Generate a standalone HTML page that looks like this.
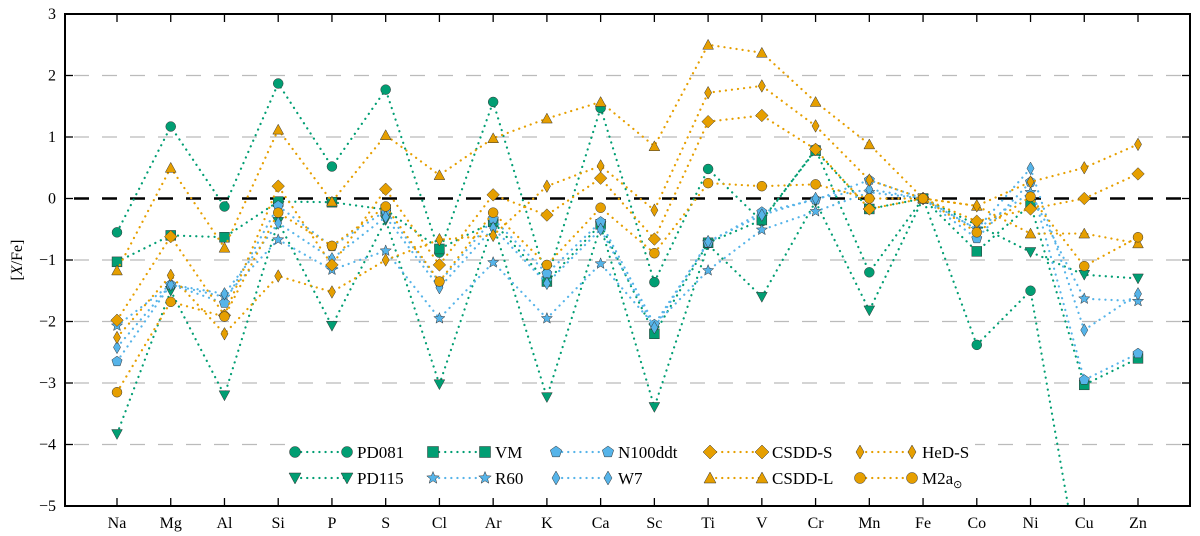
<!DOCTYPE html>
<html><head><meta charset="utf-8"><style>
html,body{margin:0;padding:0;background:#fff;width:1200px;height:536px;overflow:hidden}
svg{display:block}
svg text{font-family:"Liberation Serif",serif;}
</style></head><body>
<svg id="chart" width="1200" height="536" xmlns="http://www.w3.org/2000/svg"></svg>
<script>
const categories=["Na","Mg","Al","Si","P","S","Cl","Ar","K","Ca","Sc","Ti","V","Cr","Mn","Fe","Co","Ni","Cu","Zn"];
const yTicks=[3,2,1,0,-1,-2,-3,-4,-5];
const pd081=[-0.55,1.17,-0.13,1.87,0.52,1.77,-0.88,1.57,-1.32,1.47,-1.36,0.48,-0.37,0.8,-1.2,0,-2.38,-1.5,-6.5,-7];
const pd115=[-3.83,-1.5,-3.2,-0.38,-2.07,-0.35,-3.02,-0.42,-3.23,-0.45,-3.39,-0.75,-1.6,-0.05,-1.82,0,-0.43,-0.87,-1.24,-1.3];
const vm=[-1.03,-0.6,-0.63,-0.05,-0.06,-0.18,-0.82,-0.38,-1.35,-0.42,-2.2,-0.72,-0.35,0.78,-0.17,0,-0.86,-0.1,-3.03,-2.6];
const r60=[-2.07,-1.4,-1.6,-0.67,-1.16,-0.85,-1.95,-1.04,-1.95,-1.06,-2.06,-1.17,-0.51,-0.21,0.1,0,-0.5,0.1,-1.63,-1.67];
const n100=[-2.65,-1.4,-1.7,-0.12,-0.78,-0.2,-1.36,-0.33,-1.22,-0.38,-2.05,-0.72,-0.22,-0.02,0.3,0,-0.65,0.27,-2.95,-2.52];
const w7=[-2.42,-1.4,-1.55,-0.4,-0.98,-0.3,-1.45,-0.48,-1.38,-0.5,-2.1,-0.7,-0.27,0.0,0.15,0,-0.5,0.49,-2.14,-1.55];
const csddS=[-1.98,-0.62,-1.9,0.2,-1.08,0.15,-1.08,0.06,-0.27,0.33,-0.66,1.25,1.35,0.8,-0.17,0,-0.37,-0.17,0.0,0.4];
const csddL=[-1.17,0.5,-0.8,1.12,-0.05,1.03,0.38,0.98,1.3,1.57,0.85,2.5,2.37,1.57,0.88,0,-0.12,-0.57,-0.57,-0.73];
const hedS=[-2.26,-1.25,-2.2,-1.26,-1.52,-1.0,-0.67,-0.6,0.2,0.53,-0.19,1.72,1.83,1.18,0.3,0,-0.12,0.27,0.5,0.88];
const m2a=[-3.15,-1.68,-1.92,-0.23,-0.77,-0.13,-1.35,-0.23,-1.08,-0.15,-0.89,0.25,0.2,0.23,0.0,0,-0.55,0.03,-1.1,-0.63];

const T="#019e73",O="#e69f00",B="#56b4e9";
const series=[
 {name:"PD081",d:pd081,c:T,m:"circle"},
 {name:"PD115",d:pd115,c:T,m:"tridown"},
 {name:"VM",d:vm,c:T,m:"square"},
 {name:"R60",d:r60,c:B,m:"star"},
 {name:"N100ddt",d:n100,c:B,m:"pent"},
 {name:"W7",d:w7,c:B,m:"thin"},
 {name:"CSDD-S",d:csddS,c:O,m:"diamond"},
 {name:"CSDD-L",d:csddL,c:O,m:"triup"},
 {name:"HeD-S",d:hedS,c:O,m:"thin"},
 {name:"M2a",d:m2a,c:O,m:"circle"}
];
const L=65,R=1190,TOP=14,BOT=506,YMIN=-5,YMAX=3;
const X=i=>117+i*(1138-117)/19;
const Y=v=>TOP+(YMAX-v)*(BOT-TOP)/(YMAX-YMIN);
const NS="http://www.w3.org/2000/svg";
const svg=document.getElementById('chart');
function el(t,a,p){const e=document.createElementNS(NS,t);for(const k in a)e.setAttribute(k,a[k]);(p||svg).appendChild(e);return e;}
// clip line to y range, returns list of point runs in index-space
function clipRuns(d){const runs=[];let cur=[];
 for(let i=0;i<d.length;i++){
  const inside=d[i]>=YMIN&&d[i]<=YMAX;
  if(i>0){const a=d[i-1],b=d[i];const ain=a>=YMIN&&a<=YMAX;
   if(ain!==inside){const lim=(ain?b:a)<YMIN?YMIN:YMAX;const t=(lim-a)/(b-a);const p=[X(i-1)+t*(X(i)-X(i-1)),Y(lim)];
    if(ain){cur.push(p);runs.push(cur);cur=[];}else{cur=[p];}}}
  if(inside)cur.push([X(i),Y(d[i])]);
 }
 if(cur.length)runs.push(cur);return runs;}
yTicks.forEach(v=>{if(v===3||v===-5||v===0)return;const g=el('line',{x1:L,x2:R,y1:Y(v),y2:Y(v),stroke:'#bbb','stroke-width':1.3,'stroke-dasharray':'15,13','stroke-dashoffset':-9});
});
const z=el('line',{x1:L,x2:R,y1:Y(0),y2:Y(0),stroke:'#000','stroke-width':2.5,'stroke-dasharray':'15,13','stroke-dashoffset':-9});

function marker(m,x,y,c,g,s){s=s||1;let e;const a={fill:c,stroke:'#333','stroke-width':0.5};
 if(m==="circle")e=el('circle',Object.assign({cx:x,cy:y,r:5.5*s},a),g);
 else if(m==="square")e=el('rect',Object.assign({x:x-5.5*s,y:y-5.5*s,width:11*s,height:11*s},a),g);
 else{let pts;
  if(m==="tridown")pts=[[-6,-5],[6,-5],[0,6]];
  else if(m==="triup")pts=[[-6,5],[6,5],[0,-6]];
  else if(m==="diamond")pts=[[0,-7],[7,0],[0,7],[-7,0]];
  else if(m==="thin")pts=[[0,-7],[4,0],[0,7],[-4,0]];
  else if(m==="pent"){pts=[];for(let k=0;k<5;k++){const a2=-Math.PI/2+k*2*Math.PI/5;pts.push([6*Math.cos(a2),6*Math.sin(a2)]);}}
  else if(m==="star"){pts=[];for(let k=0;k<10;k++){const a2=-Math.PI/2+k*Math.PI/5,r=k%2?2.8:6.5;pts.push([r*Math.cos(a2),r*Math.sin(a2)]);}}
  e=el('polygon',Object.assign({points:pts.map(p=>(x+p[0]*s)+','+(y+p[1]*s)).join(' ')},a),g);}
 return e;}
const plot=el('g',{});

series.forEach(s=>{
 const g=el('g',{},plot);
 
 
 clipRuns(s.d).forEach(run=>{
  const ln=el('polyline',{points:run.map(p=>p[0]+','+p[1]).join(' '),fill:'none',stroke:s.c,'stroke-width':2.2,'stroke-dasharray':'0.1,6','stroke-linecap':'round'},g);
  
  
 });
 s.d.forEach((v,i)=>{if(v<YMIN||v>YMAX)return;const mk=marker(s.m,X(i),Y(v),s.c,g,0.9);
  
  });
});
const lg=el('g',{});

el('rect',{x:285,y:438,width:690,height:55,fill:'#fff'},lg);
const cols=[295,433,556,710,860];
series.forEach((s,k)=>{const cx=cols[Math.floor(k/2)],cy=k%2?478:452;
 const eg=el('g',{},lg);
 
 
 el('line',{x1:cx,x2:cx+52,y1:cy,y2:cy,stroke:s.c,'stroke-width':2.2,'stroke-dasharray':'0.1,6','stroke-linecap':'round'},eg);
 marker(s.m,cx,cy,s.c,eg);marker(s.m,cx+52,cy,s.c,eg);
 const t=el('text',{x:cx+62,y:cy+6,'font-size':17},eg);t.textContent=s.name;
 if(s.name==="M2a"){const sb=el('tspan',{'font-size':11,dy:4},t);sb.textContent="⊙";}
});
el('rect',{x:L,y:TOP,width:R-L,height:BOT-TOP,fill:'none',stroke:'#000','stroke-width':2});
categories.forEach((c,i)=>{el('line',{x1:X(i),x2:X(i),y1:BOT,y2:BOT-8,stroke:'#000','stroke-width':1.3});
 el('line',{x1:X(i),x2:X(i),y1:TOP,y2:TOP+8,stroke:'#000','stroke-width':1.3});
 const t=el('text',{x:X(i),y:528,'font-size':16,'text-anchor':'middle'});t.textContent=c;
 });
yTicks.forEach(v=>{el('line',{x1:L,x2:L+8,y1:Y(v),y2:Y(v),stroke:'#000','stroke-width':1.3});
 el('line',{x1:R,x2:R-8,y1:Y(v),y2:Y(v),stroke:'#000','stroke-width':1.3});
 const t=el('text',{x:56,y:Y(v)+5,'font-size':16,'text-anchor':'end'});t.textContent=v<0?'−'+(-v):String(v);
 });
const yt=el('text',{x:0,y:0,'font-size':16,'text-anchor':'middle',transform:'translate(22,260) rotate(-90)'});
yt.innerHTML='[<tspan font-style="italic">X</tspan>/Fe]';

</script>
</body></html>
